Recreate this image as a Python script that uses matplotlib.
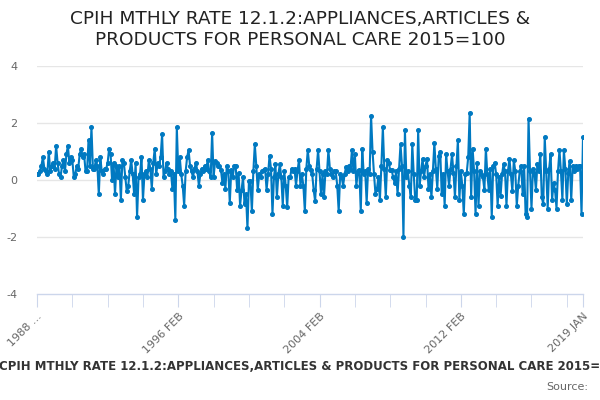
import numpy as np
import matplotlib
matplotlib.use("Agg")
import matplotlib.pyplot as plt

# monthly rate, 1988 FEB .. 2019 JAN (372 months)
values = [
    0.2, 0.2, 0.3, 0.5, 0.8, 0.4, 0.3, 0.2, 1.0, 0.3, 0.5, 0.6,
    0.4, 1.2, 0.6, 0.2, 0.1, 0.5, 0.7, 0.3, 0.9, 1.2, 0.6, 0.8,
    0.7, 0.1, 0.2, 0.5, 0.4, 0.9, 1.1, 0.8, 0.9, 0.3, 0.3, 1.4,
    0.5, 1.85, 0.4, 0.4, 0.7, 0.5, -0.5, 0.8, 0.3, 0.2, 0.4, 0.4,
    0.6, 1.1, 0.9, 0.0, 0.6, -0.5, 0.5, 0.1, 0.5, -0.7, 0.7, 0.6,
    0.1, -0.4, -0.2, 0.3, 0.7, 0.2, -0.5, 0.6, -1.3, 0.1, 0.2, 0.8,
    -0.7, 0.2, 0.3, 0.1, 0.7, 0.4, -0.3, 0.6, 1.1, 0.2, 0.6, 0.5,
    0.8, 1.6, 0.1, 0.3, 0.6, 0.4, 0.2, 0.3, -0.3, 0.2, -1.4, 1.85,
    0.3, 0.8, 0.2, -0.2, -0.9, 0.3, 0.8, 1.05, 0.5, 0.3, 0.1, 0.4,
    0.6, 0.3, -0.2, 0.2, 0.4, 0.3, 0.5, 0.4, 0.7, 0.3, 0.1, 1.65,
    0.1, 0.65, 0.6, 0.5, 0.5, 0.35, -0.1, 0.2, -0.3, 0.5, 0.3, -0.8,
    0.35, 0.1, 0.5, 0.5, -0.35, 0.25, -0.9, -0.35, 0.1, -0.85, -0.5, -1.7,
    -0.05, -0.05, -1.1, 0.3, 1.25, 0.5, -0.35, 0.2, 0.1, 0.3, 0.35, 0.4,
    -0.35, 0.2, 0.85, 0.4, -1.2, 0.1, 0.55, -0.6, 0.2, 0.55, 0.1, -0.9,
    0.3, -0.2, -0.95, 0.1, 0.1, 0.4, 0.3, 0.4, -0.2, 0.3, 0.7, -0.2,
    0.2, -0.2, -1.1, 0.4, 1.05, 0.5, 0.35, 0.2, -0.35, -0.75, 0.4, 1.05,
    0.3, -0.5, 0.2, -0.6, 0.3, 0.2, 1.05, 0.4, 0.2, 0.1, 0.3, 0.3,
    -0.2, -1.1, 0.2, 0.1, -0.2, 0.2, 0.45, 0.3, 0.5, 0.4, 1.05, 0.3,
    0.9, -0.2, 0.3, 0.35, -1.1, 1.1, 0.2, 0.3, -0.8, 0.4, 0.2, 2.25,
    1.0, 0.2, -0.5, -0.3, 0.1, -0.7, 0.5, 1.85, 0.4, -0.6, 0.7, 0.6,
    0.35, 0.35, 0.1, -0.1, 0.3, -0.5, 0.4, 1.25, 0.5, -2.0, 1.75, 0.1,
    0.3, -0.2, -0.6, 1.25, 0.2, -0.7, -0.7, 1.75, -0.2, 0.3, 0.75, 0.1,
    0.5, 0.75, -0.3, 0.2, -0.6, 0.3, 1.3, 0.4, -0.3, 0.85, 1.0, -0.5,
    0.2, -0.9, 0.9, 0.3, -0.2, 0.4, 0.9, 0.25, -0.6, 0.5, 1.4, -0.7,
    0.3, -0.2, -1.2, 0.2, 0.25, 0.8, 2.35, -0.6, 1.1, 0.3, -1.2, 0.6,
    -0.9, 0.3, 0.2, 0.1, -0.35, 1.1, 0.2, -0.35, 0.4, -1.3, 0.5, 0.6,
    0.2, -0.9, 0.1, -0.55, 0.2, 0.55, 0.3, -0.9, 0.3, 0.75, 0.2, -0.4,
    0.7, 0.3, -0.9, -0.2, 0.3, 0.5, -0.5, 0.5, -1.2, -1.3, 2.15, 0.3,
    -1.0, 0.4, 0.25, -0.35, 0.55, 0.3, 0.9, -0.6, -0.85, 1.5, 0.3, -1.0,
    0.4, 0.9, -0.7, -0.1, -0.35, -1.0, 0.3, 1.05, 0.3, -0.7, 1.05, 0.4,
    -0.85, 0.25, 0.65, -0.7, 0.5, 0.3, 0.5, 0.4, 0.5, 0.5, -1.2, 1.5,
]

tick_pos = [0, 96, 192, 288, 371]
tick_labels = ["1988 ...", "1996 FEB", "2004 FEB", "2012 FEB", "2019 JAN"]
minor_pos = list(range(0, 372, 24)) + [371]
y_ticks = [-4, -2, 0, 2, 4]

title = "CPIH MTHLY RATE 12.1.2:APPLIANCES,ARTICLES &\nPRODUCTS FOR PERSONAL CARE 2015=100"
footer = "CPIH MTHLY RATE 12.1.2:APPLIANCES,ARTICLES & PRODUCTS FOR PERSONAL CARE 2015=100"

fig = plt.figure(figsize=(6, 4), dpi=100)
ax = fig.add_axes([37 / 600, 1 - 294 / 400, 546 / 600, 228 / 400])

x = np.arange(len(values))
ax.plot(x, values, color="#0079c1", lw=1.5, marker="o", ms=2.6, zorder=3)

ax.set_xlim(0, 371)
ax.set_ylim(-4, 4)
ax.set_yticks(y_ticks)
ax.set_yticklabels([str(v) for v in y_ticks])
for v in y_ticks[1:]:
    ax.axhline(v, color="#e6e6e6", lw=1, zorder=1)

for s in ["top", "right", "left"]:
    ax.spines[s].set_visible(False)
ax.spines["bottom"].set_color("#ccd6eb")
ax.spines["bottom"].set_linewidth(1)

ax.set_xticks(minor_pos, minor=True)
ax.set_xticks(tick_pos)
ax.set_xticklabels(tick_labels, rotation=45, ha="right", va="top",
                   rotation_mode="anchor")
ax.tick_params(axis="x", which="both", length=9, color="#ccd6eb",
               labelsize=8, labelcolor="#666666", pad=3)
ax.tick_params(axis="y", length=0, labelsize=8, labelcolor="#666666", pad=14)

fig.text(0.5, 0.975, title, ha="center", va="top", fontsize=13.3,
         color="#222222", linespacing=1.2)
fig.text(0.52, 0.083, footer, ha="center", va="center", fontsize=8.5,
         fontweight="bold", color="#333333")
fig.text(0.98, 0.032, "Source:", ha="right", va="center", fontsize=8,
         color="#666666")

fig.savefig("out.png", dpi=100)
